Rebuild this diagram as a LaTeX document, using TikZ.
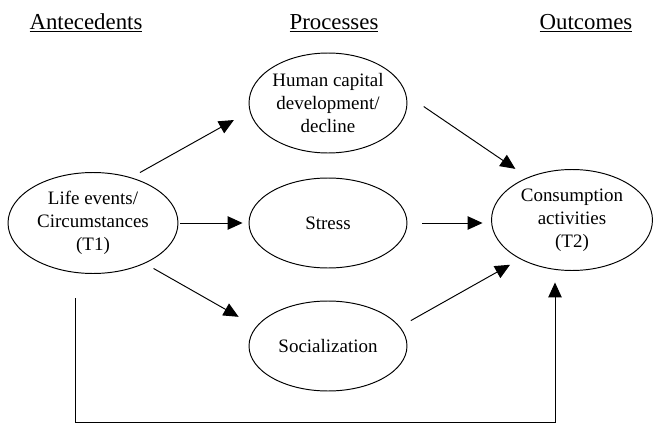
\documentclass[tikz,border=0pt]{standalone}
\usepackage{fontspec}
\setmainfont{Liberation Serif}
\usepackage{tikz}
\usetikzlibrary{shapes.geometric, arrows.meta, calc}
\tikzset{
    stage/.style={ellipse, draw=black, line width=0.55pt, inner sep=0pt, align=center,
                  minimum width=3.16cm, minimum height=1.8cm, font=\fontsize{10.8}{13.1}\selectfont},
    heading/.style={anchor=base, font=\fontsize{13}{15}\selectfont},
    arrow/.style={line width=0.55pt, -{Triangle[length=0.3cm, width=0.27cm]}}
}

\begin{document}
\begin{tikzpicture}[x=0.02cm, y=-0.02cm]
    \useasboundingbox (0,0) rectangle (654,423);

    % Column headings
    \node[heading] (antec) at (86,29) {\underline{Antecedents}};
    \node[heading] (proc) at (334,29) {\underline{Processes}};
    \node[heading] (outc) at (586,29) {\underline{Outcomes}};

    % Antecedent
    \node[stage, minimum width=3.4cm, minimum height=2.02cm] (life) at (93,223)
        {Life events/\\Circumstances\\(T1)};

    % Processes
    \node[stage, minimum height=2cm] (human) at (328,103) {Human capital\\development/\\decline};
    \node[stage] (stress) at (328,223) {Stress};
    \node[stage] (social) at (328,346) {Socialization};

    % Outcome
    \node[stage, minimum width=3.22cm, minimum height=2.02cm] (cons) at (572,220)
        {Consumption\\activities\\(T2)};

    % Arrows
    \draw[arrow, shorten <=0.2cm, shorten >=0.36cm] (life.50) -- (human.186);
    \draw[arrow, shorten <=0.04cm, shorten >=0.12cm] (life.east) -- (stress.west);
    \draw[arrow, shorten <=0.2cm, shorten >=0.4cm] (life.-38) -- (social.165);
    \draw[arrow, shorten <=0.42cm, shorten >=0.3cm] (human.6) -- (cons.136);
    \draw[arrow, shorten <=0.3cm, shorten >=0.17cm] (stress.east) -- (stress.east -| cons.west);
    \draw[arrow, shorten <=0.25cm, shorten >=0.23cm] (social.15) -- (cons.217);

    % Direct path
    \coordinate (loopl) at (75,422);
    \coordinate (loopr) at (555,422);
    \draw[arrow, shorten <=0.49cm, shorten >=0.23cm] (life.south -| loopl) -- (loopl) -- (loopr) -- (cons.south -| loopr);
\end{tikzpicture}
\end{document}
